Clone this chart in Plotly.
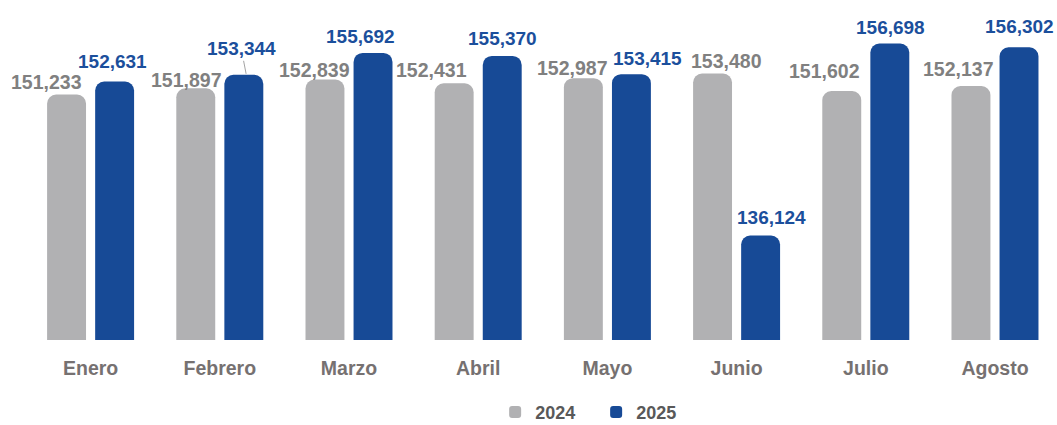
import plotly.graph_objects as go

months = ["Enero", "Febrero", "Marzo", "Abril", "Mayo", "Junio", "Julio", "Agosto"]
v2024 = [151233, 151897, 152839, 152431, 152987, 153480, 151602, 152137]
v2025 = [152631, 153344, 155692, 155370, 153415, 136124, 156698, 156302]

# label nudges (px): horizontal offset from bar centre, gap above bar top
dx24 = [-20, -9, -10, -22, -10, 14, -17, -12]
gap24 = [6, 1, 3, 6, 3, 6, 13, 10]
dx25 = [-3, -3, -13, 0, 16, 10, 0, 0]
gap25 = [14, 18, 10, 11, 9, 12, 10, 14]

FONT = "Liberation Sans, Arial, sans-serif"
GRAY = "#B1B1B3"
BLUE = "#174A96"
GRAY_TXT = "#808080"
BLUE_TXT = "#1B4F9C"
CAT_TXT = "#767171"

fig = go.Figure()
fig.add_trace(go.Bar(x=months, y=v2024, name="<b>2024</b>", marker=dict(color=GRAY, line=dict(width=0))))
fig.add_trace(go.Bar(x=months, y=v2025, name="<b>2025</b>", marker=dict(color=BLUE, line=dict(width=0))))

half = 24.5
base_pad = 6
ann = []
for i, m in enumerate(months):
    ann.append(dict(x=m, y=v2024[i], text=f"<b>{v2024[i]:,}</b>", showarrow=False,
                    xanchor="center", yanchor="bottom", xshift=-half + dx24[i],
                    yshift=gap24[i] - base_pad,
                    font=dict(family=FONT, size=19.5, color=GRAY_TXT)))
    if i == 1:
        ann.append(dict(x=m, y=v2025[i], text=f"<b>{v2025[i]:,}</b>", showarrow=True,
                        arrowhead=0, arrowwidth=0.8, arrowcolor="#8c8c8c",
                        ax=-5, ay=-26, xshift=half + 2, standoff=1,
                        font=dict(family=FONT, size=19, color=BLUE_TXT)))
    else:
        ann.append(dict(x=m, y=v2025[i], text=f"<b>{v2025[i]:,}</b>", showarrow=False,
                        xanchor="center", yanchor="bottom", xshift=half + dx25[i],
                        yshift=gap25[i] - base_pad,
                        font=dict(family=FONT, size=19, color=BLUE_TXT)))

fig.update_layout(
    width=1057, height=425,
    margin=dict(l=26, r=0, t=20, b=85),
    paper_bgcolor="white", plot_bgcolor="white",
    barmode="group", bargap=0.256, bargroupgap=0.19, barcornerradius=9,
    showlegend=True,
    legend=dict(orientation="h", x=0.553, xanchor="center",
                yref="container", y=0.03, yanchor="middle",
                entrywidth=56, font=dict(family=FONT, size=18, color="#595959")),
    xaxis=dict(range=[-0.5, 7.48], showgrid=False, zeroline=False, showline=False, ticks="",
               ticklabelstandoff=14, automargin=False,
               tickvals=months, ticktext=[f"<b>{m}</b>" for m in months],
               tickfont=dict(family=FONT, size=19.5, color=CAT_TXT)),
    yaxis=dict(range=[124930, 159221], visible=False, showgrid=False, zeroline=False, automargin=False),
    annotations=ann,
)
fig.write_html("out.html", config={"displayModeBar": False},
               post_script="document.body.style.margin='0';document.body.style.padding='0';")
